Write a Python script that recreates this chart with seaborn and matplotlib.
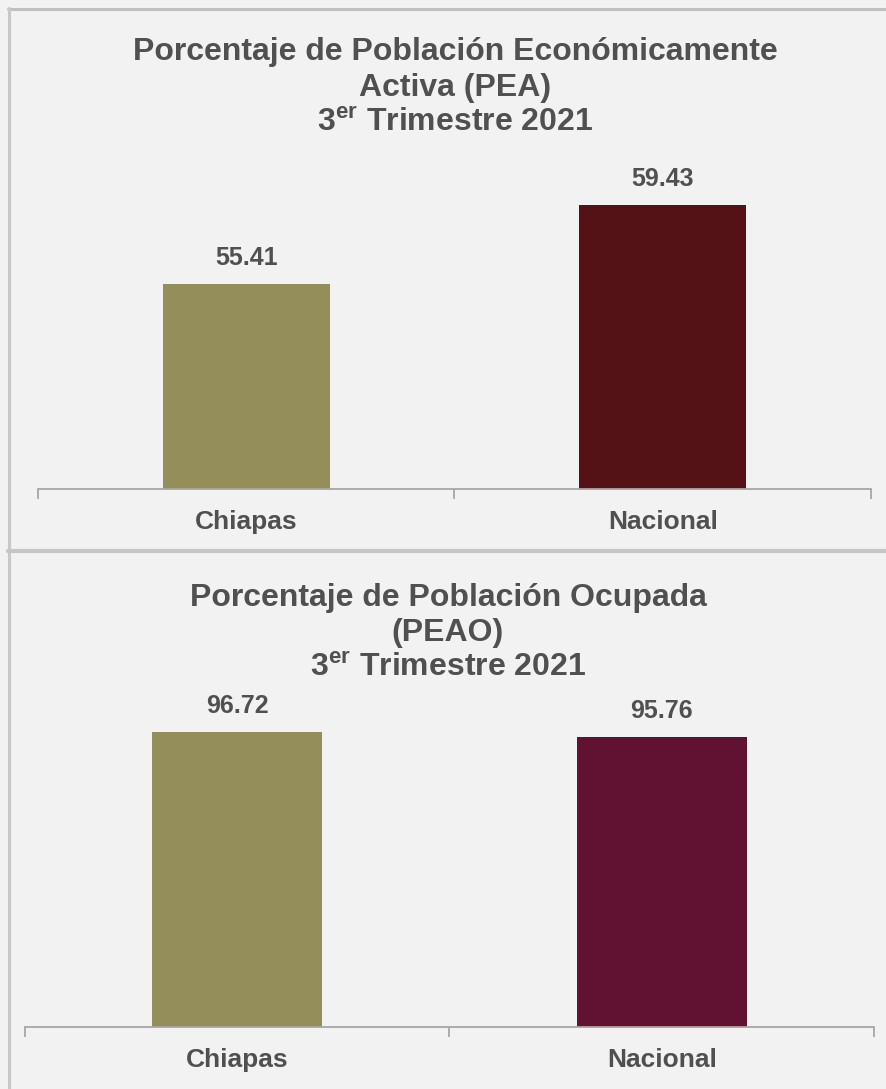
import matplotlib
matplotlib.use("Agg")
import matplotlib.pyplot as plt
import seaborn as sns
import pandas as pd
from matplotlib.lines import Line2D

# ---- data ----
categories = ["Chiapas", "Nacional"]
pea_values = [55.41, 59.43]
peao_values = [96.72, 95.76]
pea_colors = ["#948f5a", "#551216"]
peao_colors = ["#948f5a", "#611132"]
pea_title = ["Porcentaje de Población Económicamente", "Activa (PEA)",
             r"3$^{\mathrm{er}}$ Trimestre 2021"]
peao_title = ["Porcentaje de Población Ocupada", "(PEAO)",
              r"3$^{\mathrm{er}}$ Trimestre 2021"]

sns.set_theme(style="white")
plt.rcParams['font.family'] = ['Liberation Sans', 'DejaVu Sans']
plt.rcParams['mathtext.fontset'] = 'custom'
plt.rcParams['mathtext.rm'] = 'Liberation Sans:bold'
plt.rcParams['mathtext.bf'] = 'Liberation Sans:bold'

W, H = 887, 1089
DPI = 100
BG = "#f2f2f2"
TXT = "#505050"
fig = plt.figure(figsize=(W / DPI, H / DPI), dpi=DPI, facecolor=BG)


def fx(px):
    return px / W


def fy(py):
    return 1 - py / H


def make_panel(left, right, base, top, ymin, ymax, values, colors,
               title, title_x, title_ys):
    ax = fig.add_axes([fx(left), fy(base), fx(right - left), fy(top) - fy(base)])
    ax.set_facecolor(BG)
    df = pd.DataFrame({"cat": categories, "val": values})
    sns.barplot(data=df, x="cat", y="val", hue="cat", palette=colors,
                width=0.4, legend=False, ax=ax, saturation=1, linewidth=0)
    ax.set_xlim(-0.5, 1.5)
    ax.set_ylim(ymin, ymax)
    for s in ["top", "right", "left"]:
        ax.spines[s].set_visible(False)
    ax.spines["bottom"].set_color("#a6a6a6")
    ax.spines["bottom"].set_linewidth(1.3)
    ax.set_yticks([])
    ax.set_xlabel("")
    ax.set_ylabel("")
    ax.set_xticks([0, 1])
    ax.set_xticklabels([])
    ax.tick_params(axis="x", which="major", length=0)
    ax.set_xticks([-0.5, 0.5, 1.5], minor=True)
    ax.tick_params(axis="x", which="minor", bottom=True, length=7, width=1.3,
                   color="#a6a6a6", direction="out")
    for i, c in enumerate(categories):
        ax.annotate(c, xy=(i, 0), xycoords=("data", "axes fraction"),
                    xytext=(0, -33 * 72 / DPI), textcoords="offset points",
                    ha="center", va="center", fontsize=19,
                    fontweight="bold", color=TXT, annotation_clip=False)
    for i, v in enumerate(values):
        ax.annotate(f"{v:.2f}", xy=(i, v), xytext=(0, 26 * 72 / DPI),
                    textcoords="offset points", ha="center", va="center",
                    fontsize=18, fontweight="bold", color=TXT,
                    annotation_clip=False)
    for line, yy in zip(title, title_ys):
        fig.text(fx(title_x), fy(yy), line, ha="center", va="center",
                 fontsize=23, fontweight="bold", color=TXT)
    return ax


# top panel: base at 489 px, scale ~19.65 px/unit from 45
top_px = 160
make_panel(38, 871, 489, top_px, 45, 45 + (489 - top_px) / 19.65,
           pea_values, pea_colors, pea_title, 455, [52, 88, 123])

# bottom panel: base at 1027 px, scale ~5.2 px/unit from 40
top_px2 = 700
make_panel(25, 874, 1027, top_px2, 40, 40 + (1027 - top_px2) / 5.2,
           peao_values, peao_colors, peao_title, 448, [598, 633, 668])

# frame lines
fig.add_artist(Line2D([fx(8), 1], [fy(9), fy(9)], color="#c0c0c0",
                      linewidth=2.2, transform=fig.transFigure))
fig.add_artist(Line2D([fx(9.5), fx(9.5)], [fy(8), 0], color="#c8c8c8",
                      linewidth=2.2, transform=fig.transFigure))
fig.add_artist(Line2D([fx(8), 1], [fy(551), fy(551)], color="#c6c6c6",
                      linewidth=3, transform=fig.transFigure))

fig.savefig("out.png", dpi=DPI, facecolor=BG)
